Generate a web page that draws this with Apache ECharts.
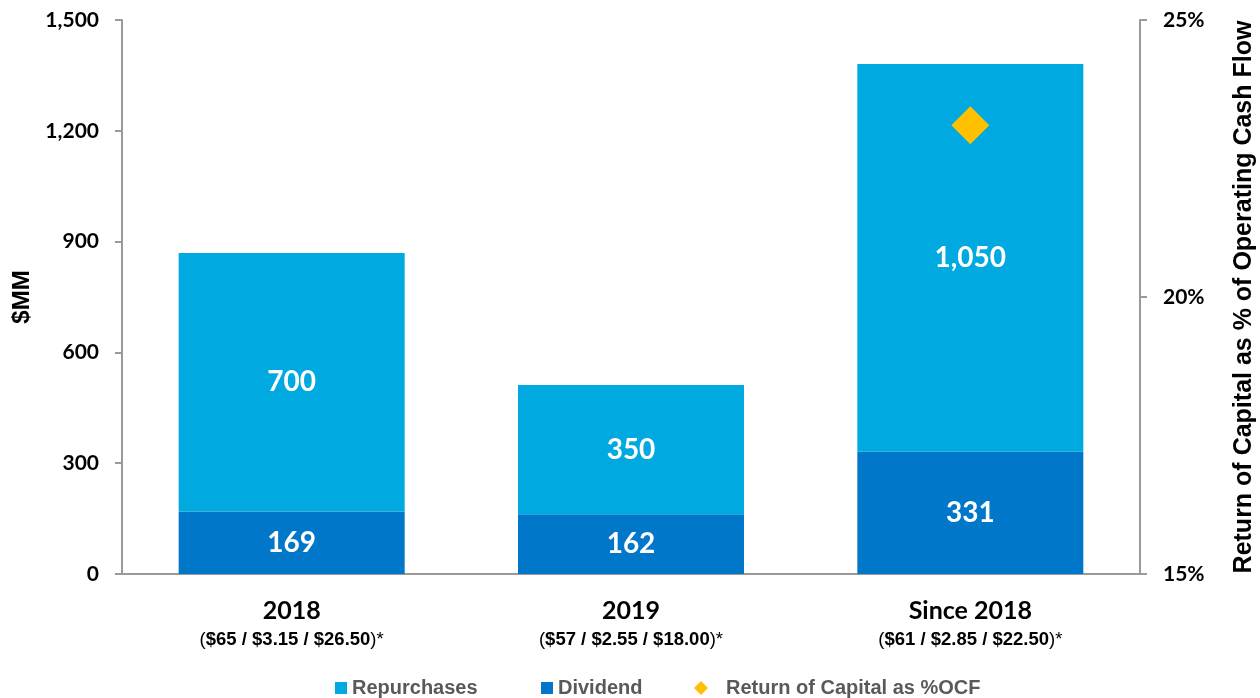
<!DOCTYPE html>
<html>
<head>
<meta charset="utf-8">
<script src="https://cdn.jsdelivr.net/npm/echarts@6/dist/echarts.min.js"></script>
<style>
  html, body { margin: 0; padding: 0; background: #fff; }
  #returnChart { width: 1260px; height: 698px; }
</style>
</head>
<body>
<div id="returnChart"></div>
<script>
const categories = ['2018', '2019', 'Since 2018'];
const subLabels = ['$65 / $3.15 / $26.50', '$57 / $2.55 / $18.00', '$61 / $2.85 / $22.50'];
const dividend = [169, 162, 331];
const repurchases = [700, 350, 1050];
const returnPctOcf = [null, null, 23.1];

const axisColor = '#9a9a9a';
const legendText = { color: '#595959', fontFamily: 'Liberation Sans', fontWeight: 'bold', fontSize: 20 };

const chart = echarts.init(document.getElementById('returnChart'));
chart.setOption({
  animation: false,
  grid: { left: 122, right: 120, top: 20, bottom: 124, outerBoundsMode: 'none', containLabel: false },
  legend: [
    {
      data: [{ name: 'Repurchases', icon: 'rect' }],
      left: 335, top: 678, padding: 0, itemWidth: 12, itemHeight: 12,
      textStyle: legendText
    },
    {
      data: [{ name: 'Dividend', icon: 'rect' }],
      left: 541, top: 678, padding: 0, itemWidth: 12, itemHeight: 12,
      textStyle: legendText
    },
    {
      data: [{ name: 'Return of Capital as %OCF', icon: 'diamond' }],
      left: 694, top: 678, padding: 0, itemWidth: 14, itemHeight: 14,
      itemStyle: { opacity: 1 },
      textStyle: Object.assign({}, legendText, { padding: [0, 0, 0, 13] })
    }
  ],
  xAxis: {
    type: 'category',
    data: categories,
    axisLine: { lineStyle: { color: axisColor, width: 2 } },
    axisTick: { length: 8, lineStyle: { color: axisColor, width: 2 } },
    axisLabel: {
      margin: 22,
      formatter: function (value, idx) {
        return '{a|' + value + '}\n{p|(}{s|' + subLabels[idx] + '}{p|)*}';
      },
      rich: {
        a: { fontFamily: 'Lato', fontWeight: 'bold', fontSize: 25, lineHeight: 30, color: '#000' },
        s: { fontFamily: 'Liberation Sans', fontWeight: 'bold', fontSize: 18.5, lineHeight: 28, color: '#000' },
        p: { fontFamily: 'Liberation Sans', fontWeight: 'normal', fontSize: 18.5, lineHeight: 28, color: '#000' }
      }
    }
  },
  yAxis: [
    {
      type: 'value',
      min: 0, max: 1500, interval: 300,
      name: '$MM',
      nameLocation: 'middle',
      nameGap: 83,
      nameRotate: 90,
      nameTextStyle: { fontFamily: 'Liberation Sans', fontWeight: 'bold', fontSize: 24, color: '#000' },
      splitLine: { show: false },
      axisLine: { show: true, lineStyle: { color: axisColor, width: 2 } },
      axisTick: { show: true, length: 7, lineStyle: { color: axisColor, width: 2 } },
      axisLabel: {
        margin: 23,
        fontFamily: 'Lato', fontWeight: 'bold', fontSize: 21, color: '#000',
        formatter: function (v) { return v.toLocaleString('en-US'); }
      }
    },
    {
      type: 'value',
      position: 'right',
      min: 15, max: 25, interval: 5,
      name: 'Return of Capital as % of Operating Cash Flow',
      nameLocation: 'middle',
      nameGap: 92,
      nameRotate: 90,
      nameTextStyle: { fontFamily: 'Liberation Sans', fontWeight: 'bold', fontSize: 25, color: '#000' },
      splitLine: { show: false },
      axisLine: { show: true, lineStyle: { color: axisColor, width: 2 } },
      axisTick: { show: true, length: 7, lineStyle: { color: axisColor, width: 2 } },
      axisLabel: {
        margin: 23,
        fontFamily: 'Lato', fontWeight: 'bold', fontSize: 21, color: '#000',
        formatter: '{value}%'
      }
    }
  ],
  series: [
    {
      name: 'Dividend',
      type: 'bar',
      stack: 'capital',
      barWidth: '66.6%',
      data: dividend,
      itemStyle: { color: '#0077C8' },
      label: {
        show: true, position: 'inside', color: '#fff',
        fontFamily: 'Lato', fontWeight: 'bold', fontSize: 28
      }
    },
    {
      name: 'Repurchases',
      type: 'bar',
      stack: 'capital',
      barWidth: '66.6%',
      data: repurchases,
      itemStyle: { color: '#00A9E0' },
      label: {
        show: true, position: 'inside', color: '#fff',
        fontFamily: 'Lato', fontWeight: 'bold', fontSize: 28,
        formatter: function (p) { return p.value.toLocaleString('en-US'); }
      }
    },
    {
      name: 'Return of Capital as %OCF',
      type: 'scatter',
      yAxisIndex: 1,
      symbol: 'diamond',
      symbolSize: 38,
      data: returnPctOcf,
      itemStyle: { color: '#FFC000', opacity: 1 },
      z: 5
    }
  ]
});
</script>
</body>
</html>
